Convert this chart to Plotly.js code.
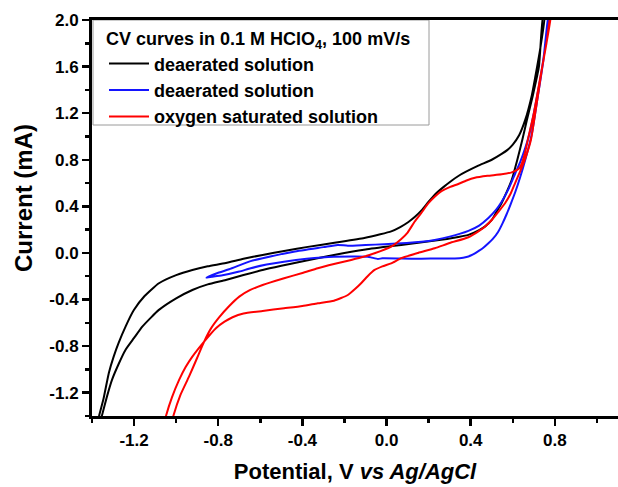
<!DOCTYPE html>
<html>
<head>
<meta charset="utf-8">
<script src="https://cdn.plot.ly/plotly-3.0.1.min.js"></script>
<style>
  html, body { margin: 0; padding: 0; background: #fff; }
  #chart { width: 618px; height: 487px; }
</style>
</head>
<body>
<div id="chart"></div>
<script>
// ---- data ----
const seriesNames = ["deaerated solution", "deaerated solution", "oxygen saturated solution"];

// black: deaerated solution, wide window (closed loop: upper branch then return branch)
const blackX = [-1.372, -1.365, -1.345, -1.320, -1.297, -1.273, -1.240, -1.201, -1.150, -1.082, -1.000, -0.923, -0.850, -0.764, -0.680, -0.589, -0.480, -0.374, -0.240, -0.106, -0.030, 0.022, 0.065, 0.104, 0.135, 0.166, 0.200, 0.229, 0.270, 0.309, 0.345, 0.380, 0.436, 0.500, 0.547, 0.575, 0.600, 0.630, 0.659, 0.690, 0.707, 0.730, 0.752,
                0.745, 0.724, 0.695, 0.667, 0.645, 0.620, 0.595, 0.570, 0.547, 0.520, 0.500, 0.470, 0.440, 0.389, 0.320, 0.250, 0.160, 0.070, -0.100, -0.250, -0.420, -0.500, -0.589, -0.680, -0.764, -0.850, -0.923, -1.000, -1.082, -1.120, -1.161, -1.200, -1.241, -1.275, -1.305, -1.330, -1.352, -1.362];
const blackY = [-1.45, -1.39, -1.25, -1.03, -0.89, -0.77, -0.63, -0.49, -0.37, -0.26, -0.19, -0.146, -0.115, -0.086, -0.050, -0.017, 0.018, 0.052, 0.090, 0.129, 0.160, 0.185, 0.222, 0.266, 0.310, 0.365, 0.440, 0.500, 0.565, 0.620, 0.665, 0.700, 0.750, 0.800, 0.850, 0.885, 0.930, 1.010, 1.142, 1.350, 1.513, 1.750, 2.05,
                2.05, 1.597, 1.350, 1.142, 0.970, 0.790, 0.627, 0.520, 0.429, 0.345, 0.283, 0.230, 0.195, 0.155, 0.130, 0.110, 0.090, 0.069, 0.030, -0.017, -0.080, -0.110, -0.146, -0.190, -0.232, -0.270, -0.318, -0.390, -0.489, -0.555, -0.633, -0.730, -0.833, -0.960, -1.090, -1.240, -1.391, -1.45];

// blue: deaerated solution, narrow window
const blueX = [-0.856, -0.800, -0.748, -0.646, -0.589, -0.441, -0.300, -0.232, -0.184, -0.100, -0.011, 0.166, 0.229, 0.300, 0.389, 0.440, 0.484, 0.520, 0.547, 0.580, 0.611, 0.635, 0.659, 0.680, 0.700, 0.740, 0.772,
               0.770, 0.745, 0.715, 0.691, 0.659, 0.635, 0.611, 0.590, 0.570, 0.550, 0.530, 0.505, 0.484, 0.460, 0.440, 0.420, 0.400, 0.380, 0.347, 0.250, 0.166, 0.070, -0.020, -0.041, -0.070, -0.089, -0.250, -0.380, -0.488, -0.570, -0.646, -0.700, -0.780, -0.830, -0.856];
const blueY = [-0.212, -0.170, -0.140, -0.070, -0.045, 0.011, 0.050, 0.069, 0.062, 0.068, 0.075, 0.097, 0.112, 0.140, 0.190, 0.235, 0.300, 0.370, 0.440, 0.550, 0.680, 0.780, 0.900, 1.030, 1.200, 1.600, 2.05,
               2.05, 1.650, 1.300, 1.027, 0.798, 0.650, 0.519, 0.420, 0.330, 0.250, 0.180, 0.120, 0.083, 0.045, 0.020, -0.003, -0.022, -0.035, -0.045, -0.047, -0.050, -0.048, -0.046, -0.052, -0.040, -0.032, -0.032, -0.050, -0.075, -0.100, -0.131, -0.160, -0.192, -0.205, -0.212];

// red: oxygen saturated solution
const redX = [-1.020, -1.012, -0.980, -0.939, -0.900, -0.867, -0.835, -0.795, -0.750, -0.700, -0.650, -0.589, -0.487, -0.400, -0.327, -0.250, -0.168, -0.110, -0.057, 0.022, 0.070, 0.100, 0.134, 0.166, 0.198, 0.230, 0.261, 0.300, 0.341, 0.380, 0.420, 0.480, 0.547, 0.595, 0.627, 0.642, 0.658, 0.675, 0.700, 0.730, 0.760, 0.782,
              0.780, 0.760, 0.740, 0.715, 0.686, 0.659, 0.635, 0.611, 0.590, 0.563, 0.530, 0.500, 0.470, 0.440, 0.389, 0.300, 0.229, 0.150, 0.070, 0.022, -0.020, -0.057, -0.090, -0.121, -0.150, -0.184, -0.250, -0.327, -0.400, -0.487, -0.589, -0.680, -0.732, -0.770, -0.811, -0.867, -0.923, -0.955, -0.986, -1.020, -1.047, -1.055];
const redY = [-1.45, -1.391, -1.220, -1.062, -0.900, -0.761, -0.650, -0.552, -0.460, -0.375, -0.320, -0.275, -0.217, -0.172, -0.131, -0.095, -0.060, -0.033, -0.003, 0.054, 0.120, 0.175, 0.270, 0.345, 0.425, 0.485, 0.530, 0.565, 0.592, 0.622, 0.645, 0.662, 0.675, 0.692, 0.720, 0.765, 0.860, 1.000, 1.200, 1.500, 1.800, 2.05,
              2.05, 1.800, 1.597, 1.300, 0.970, 0.810, 0.700, 0.600, 0.510, 0.427, 0.350, 0.283, 0.230, 0.190, 0.135, 0.085, 0.040, 0.000, -0.045, -0.089, -0.115, -0.146, -0.200, -0.260, -0.310, -0.361, -0.410, -0.432, -0.455, -0.475, -0.498, -0.520, -0.552, -0.590, -0.646, -0.761, -0.890, -0.980, -1.090, -1.240, -1.391, -1.45];

const xTickVals = [-1.2, -0.8, -0.4, 0.0, 0.4, 0.8];
const xTickText = ["-1.2", "-0.8", "-0.4", "0.0", "0.4", "0.8"];
const yTickVals = [-1.2, -0.8, -0.4, 0.0, 0.4, 0.8, 1.2, 1.6, 2.0];
const yTickText = ["-1.2", "-0.8", "-0.4", "0.0", "0.4", "0.8", "1.2", "1.6", "2.0"];

// ---- chart ----
const FONT = "Liberation Sans, Arial, Helvetica, sans-serif";
const colors = ["#000000", "#1414ff", "#ff0000"];
const xs = [blackX, blueX, redX];
const ys = [blackY, blueY, redY];

const traces = xs.map((x, i) => ({
  type: "scatter",
  mode: "lines",
  x: x,
  y: ys[i],
  name: seriesNames[i],
  line: { color: colors[i], width: 2, shape: "spline", smoothing: 0.5 },
  hoverinfo: "skip"
}));

const PW = 526, PH = 396; // plot area size in px
const px2x = p => (p - 92) / PW;
const px2y = p => (416 - p) / PH;

const layout = {
  width: 618,
  height: 487,
  margin: { l: 92, r: 0, t: 20, b: 71, pad: 0 },
  paper_bgcolor: "#ffffff",
  plot_bgcolor: "#ffffff",
  font: { family: FONT, color: "#000", size: 17 },
  showlegend: true,
  legend: {
    x: px2x(104), y: px2y(22), xanchor: "left", yanchor: "top",
    bgcolor: "rgba(0,0,0,0)",
    borderwidth: 0,
    font: { family: FONT, size: 18, weight: "bold", color: "#000" },
    title: { text: "CV curves in 0.1 M HClO<sub>4</sub>, 100 mV/s", font: { family: FONT, size: 18, weight: "bold", color: "#000" } },
    itemwidth: 40,
    tracegroupgap: 0
  },
  shapes: [{
    type: "rect", xref: "paper", yref: "paper", layer: "below",
    x0: px2x(93), x1: px2x(429), y0: px2y(125), y1: 1,
    line: { color: "#9a9a9a", width: 1 }, fillcolor: "#ffffff"
  }],
  xaxis: {
    range: [-1.4, 1.1],
    showgrid: false, zeroline: false,
    showline: true, linecolor: "#000", linewidth: 3, mirror: true,
    ticks: "outside", ticklen: 7, tickwidth: 2.5, tickcolor: "#000",
    tickmode: "array", tickvals: xTickVals, ticktext: xTickText,
    tickfont: { family: FONT, size: 17, weight: "bold", color: "#000" },
    minor: { dtick: 0.2, tick0: 0, ticks: "outside", ticklen: 4, tickwidth: 2.5, tickcolor: "#000", showgrid: false },
    title: { text: "Potential, V <i>vs Ag/AgCl</i>", font: { family: FONT, size: 22, weight: "bold", color: "#000" }, standoff: 15 },
    fixedrange: true
  },
  yaxis: {
    range: [-1.4, 2.0],
    showgrid: false, zeroline: false,
    showline: true, linecolor: "#000", linewidth: 3, mirror: false,
    ticks: "outside", ticklen: 7, tickwidth: 2.5, tickcolor: "#000",
    tickmode: "array", tickvals: yTickVals, ticktext: yTickText,
    tickfont: { family: FONT, size: 17, weight: "bold", color: "#000" },
    minor: { dtick: 0.2, tick0: 0, ticks: "outside", ticklen: 4, tickwidth: 2.5, tickcolor: "#000", showgrid: false },
    fixedrange: true
  },
  annotations: [{
    text: "Current (mA)",
    textangle: -90,
    xref: "paper", yref: "paper",
    x: px2x(23), y: px2y(198),
    xanchor: "center", yanchor: "middle",
    showarrow: false,
    font: { family: FONT, size: 24, weight: "bold", color: "#000" }
  }]
};

Plotly.newPlot("chart", traces, layout, { displayModeBar: false, staticPlot: true });
</script>
</body>
</html>
